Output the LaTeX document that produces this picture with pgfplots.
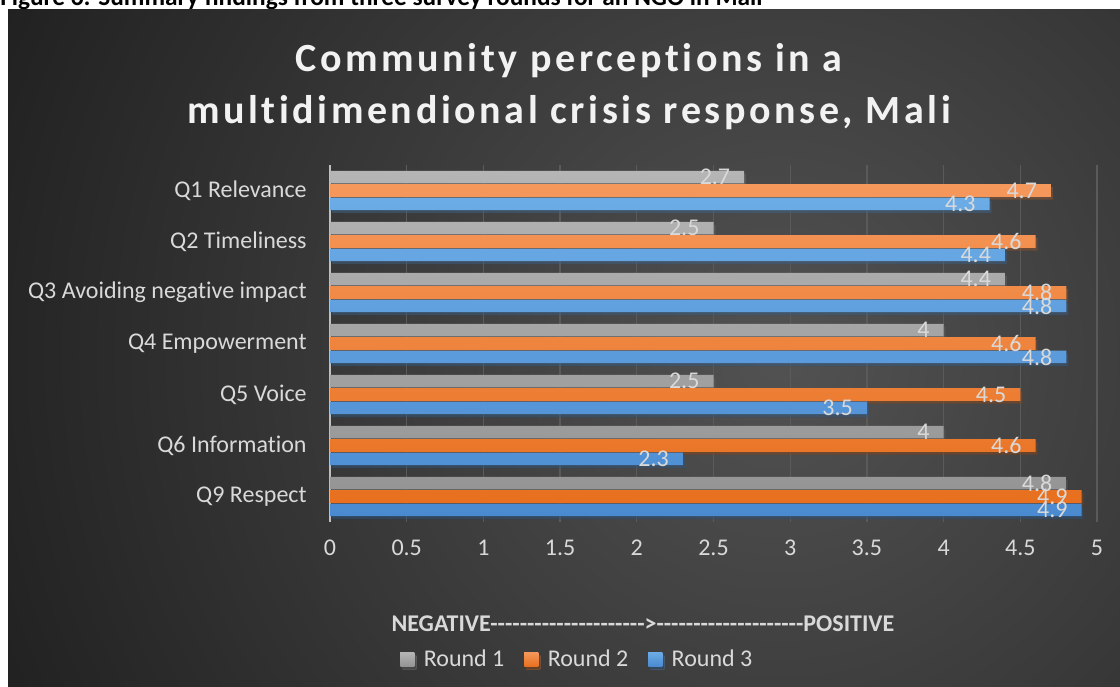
\documentclass[border=0pt]{standalone}
\usepackage{fontspec}
\setmainfont{Carlito}[Ligatures=NoCommon]
\newfontfamily\titlefont{Carlito}[LetterSpace=9, Ligatures=NoCommon]
\usepackage{pgfplots}
\pgfplotsset{compat=1.18}

\definecolor{lbl}{HTML}{D9D9D9}
\definecolor{titlec}{HTML}{F2F2F2}
\definecolor{bgin}{HTML}{525252}
\definecolor{bgout}{HTML}{1E1E1E}
\definecolor{gridc}{HTML}{5A5A5A}
\definecolor{yaxc}{HTML}{BFBFBF}
\definecolor{g1}{HTML}{B5B5B5}
\definecolor{g2}{HTML}{959595}
\definecolor{o1}{HTML}{F5985C}
\definecolor{o2}{HTML}{E8701F}
\definecolor{b1}{HTML}{6CACE6}
\definecolor{b2}{HTML}{4A8AD0}

\newcommand\dsh{-\kern0pt}
\newcommand\tendash{\dsh\dsh\dsh\dsh\dsh\dsh\dsh\dsh\dsh\dsh}

\begin{document}
\begin{tikzpicture}[x=0.75pt,y=0.75pt]
\clip (0,0) rectangle (1120,686);
\fill[white] (0,0) rectangle (1120,686);
% caption of the report page, cut off at the top
\node[anchor=base west, inner sep=0, font=\bfseries\fontsize{19}{22}\selectfont] at (0,680.5)
  {Figure 6: Summary findings from three survey rounds for an NGO in Mali};
% dark chart area
\begin{scope}
  \clip (8,0) rectangle (1120,676);
  \shade[inner color=bgin, outer color=bgout] (780,330) circle (900);
\end{scope}

\node[anchor=base, font=\titlefont\bfseries\fontsize{30}{34}\selectfont, text=titlec] at (569,614)
  {Community perceptions in a};
\node[anchor=base, font=\titlefont\bfseries\fontsize{30}{34}\selectfont, text=titlec] at (569,562)
  {multidimendional crisis response, Mali};

\begin{axis}[
  at={(247.5pt,123pt)}, anchor=south west,
  scale only axis, width=575.25pt, height=267.75pt,
  xbar, bar width=9.4pt,
  xmin=0, xmax=5, ymin=-0.5, ymax=6.5,
  xtick={0,0.5,1,1.5,2,2.5,3,3.5,4,4.5,5},
  ytick={0,1,2,3,4,5,6},
  yticklabels={Q9 Respect, Q6 Information, Q5 Voice, Q4 Empowerment,
    Q3 Avoiding negative impact, Q2 Timeliness, Q1 Relevance},
  xmajorgrids, grid style={draw=gridc, line width=1pt},
  axis x line*=bottom, axis y line*=left,
  x axis line style={draw=none},
  y axis line style={draw=yaxc, line width=1.2pt, -},
  major tick length=0pt,
  tick label style={text=lbl, font=\fontsize{18}{20}\selectfont},
  xticklabel style={yshift=-10pt},
  yticklabel style={xshift=-14pt},
  /pgf/number format/assume math mode=true,
  point meta=x,
  nodes near coords,
  nodes near coords style={anchor=east, text=lbl, xshift=-7pt,
    font=\fontsize{18}{20}\selectfont},
  every axis plot/.append style={draw=none,
    preaction={fill=black, fill opacity=0.3,
      transform canvas={xshift=1.5pt, yshift=-2.2pt}}},
  legend style={at={(0.323,-0.384)}, anchor=center, draw=none, fill=none,
    text=lbl, font=\fontsize{18}{20}\selectfont, legend columns=3,
    /tikz/every even column/.append style={column sep=13pt}},
  clip=false,
]
\addplot[top color=g1, bottom color=g2, bar shift=10.1pt, legend image code/.code={
    \fill[g1] (0pt,-5.25pt) rectangle (10.5pt,5.25pt); \path (15.5pt,0pt);}]
  coordinates {(2.7,6) (2.5,5) (4.4,4) (4,3) (2.5,2) (4,1) (4.8,0)};
\addplot[top color=o1, bottom color=o2, bar shift=0pt, legend image code/.code={
    \fill[o1!60!o2] (0pt,-5.25pt) rectangle (10.5pt,5.25pt); \path (15.5pt,0pt);}]
  coordinates {(4.7,6) (4.6,5) (4.8,4) (4.6,3) (4.5,2) (4.6,1) (4.9,0)};
\addplot[top color=b1, bottom color=b2, bar shift=-10.1pt, legend image code/.code={
    \fill[b1!60!b2] (0pt,-5.25pt) rectangle (10.5pt,5.25pt); \path (15.5pt,0pt);}]
  coordinates {(4.3,6) (4.4,5) (4.8,4) (4.8,3) (3.5,2) (2.3,1) (4.9,0)};
\legend{Round 1, Round 2, Round 3}
\end{axis}

\node[font=\bfseries\fontsize{18}{20}\selectfont, text=lbl] at (643,62)
  {NEGATIVE\tendash\tendash\dsh>\tendash\tendash POSITIVE};
\end{tikzpicture}
\end{document}
